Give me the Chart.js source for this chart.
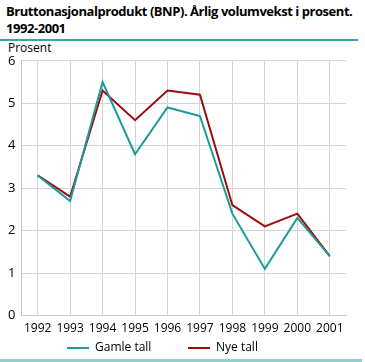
<!DOCTYPE html>
<html>
<head>
<meta charset="utf-8">
<script src="https://cdn.jsdelivr.net/npm/chart.js@4"></script>
<style>
  body { margin: 0; background: #fff; font-family: "Open Sans", sans-serif; }
  #wrap { position: relative; width: 365px; height: 362px; overflow: hidden; }
  #title { position: absolute; left: 6px; top: 3px; font-size: 13px; font-weight: bold; line-height: 17px; color: #000; white-space: nowrap; letter-spacing: -0.45px; }
  #topline { position: absolute; left: 0; top: 39px; width: 358px; height: 2px; background: #3aa6a2; }
  #unit { position: absolute; left: 8px; top: 39px; font-size: 12px; color: #000; }
  #bottomline { position: absolute; left: 0; top: 359px; width: 362px; height: 3px; background: #8fd0ca; }
  #box { position: absolute; left: 0; top: 47px; width: 355px; height: 295px; }
  .leg { position: absolute; top: 338px; font-size: 12px; color: #000; }
  .leg span { display: inline-block; width: 22px; height: 2px; vertical-align: middle; margin-right: 6px; }
</style>
</head>
<body>
<div id="wrap">
  <div id="title">Bruttonasjonalprodukt (BNP). Årlig volumvekst i prosent.<br>1992-2001</div>
  <div id="topline"></div>
  <div id="unit">Prosent</div>
  <div id="box"><canvas id="chart"></canvas></div>
  <div id="legend"></div>
  <div id="bottomline"></div>
</div>
<script>
// data lest av figuren
const years = ['1992', '1993', '1994', '1995', '1996', '1997', '1998', '1999', '2000', '2001'];
const gamleTall = [3.3, 2.7, 5.5, 3.8, 4.9, 4.7, 2.4, 1.1, 2.3, 1.4];
const nyeTall = [3.3, 2.8, 5.3, 4.6, 5.3, 5.2, 2.6, 2.1, 2.4, 1.4];
const yTicks = [0, 1, 2, 3, 4, 5, 6];

const teal = '#1c9a9a';
const red = '#9b0d0d';

const chart = new Chart(document.getElementById('chart').getContext('2d'), {
    type: 'line',
    data: {
        labels: years,
        datasets: [
            { label: 'Gamle tall', data: gamleTall, borderColor: teal, backgroundColor: teal, borderWidth: 2, pointRadius: 0, tension: 0 },
            { label: 'Nye tall', data: nyeTall, borderColor: red, backgroundColor: red, borderWidth: 2, pointRadius: 0, tension: 0 }
        ]
    },
    options: {
        responsive: true,
        maintainAspectRatio: false,
        animation: false,
        layout: { padding: { top: 0, right: 9, left: 2, bottom: 0 } },
        plugins: {
            legend: { display: false },
            tooltip: { enabled: false }
        },
        scales: {
            x: {
                offset: true,
                grid: { offset: false, color: '#d4d4d4', lineWidth: 1, drawTicks: false },
                border: { color: '#c8c8c8' },
                ticks: { color: '#000', font: { family: 'Open Sans', size: 12 }, padding: 6, maxRotation: 0, autoSkip: false }
            },
            y: {
                min: 0,
                max: 6,
                afterBuildTicks: axis => { axis.ticks = yTicks.map(v => ({ value: v })); },
                grid: { color: '#d4d4d4', lineWidth: 1, drawTicks: false },
                border: { color: '#c8c8c8' },
                ticks: { color: '#000', font: { family: 'Open Sans', size: 13 }, padding: 6 }
            }
        }
    }
});

// forklaring under figuren, bygget fra datasettene
const legendPos = [67, 188];
const legend = document.getElementById('legend');
chart.data.datasets.forEach((ds, i) => {
    const d = document.createElement('div');
    d.className = 'leg';
    d.style.left = legendPos[i] + 'px';
    d.innerHTML = `<span style="background:${ds.borderColor}"></span>${ds.label}`;
    legend.appendChild(d);
});
</script>
</body>
</html>
